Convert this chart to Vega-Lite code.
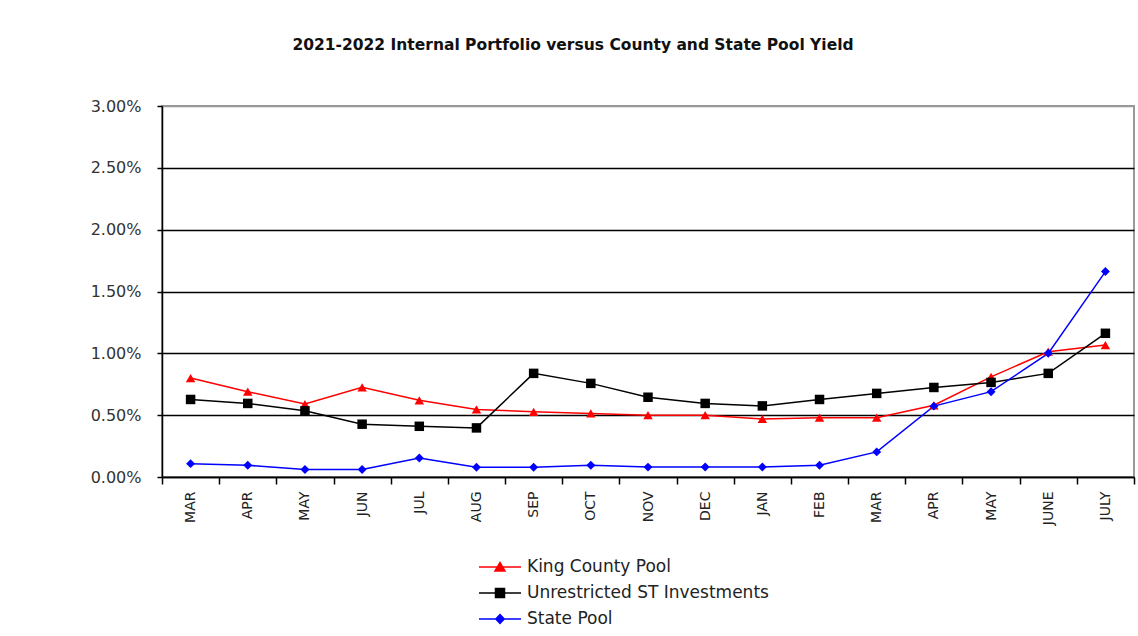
{
  "$schema": "https://vega.github.io/schema/vega-lite/v6.json",
  "width": 972,
  "height": 371,
  "autosize": {"type": "none"},
  "padding": {"left": 162, "top": 106, "right": 4, "bottom": 159},
  "background": "white",
  "title": {
    "text": "2021-2022 Internal Portfolio versus County and State Pool Yield",
    "font": "DejaVu Sans",
    "fontSize": 15.5,
    "fontWeight": "bold",
    "color": "#111111",
    "anchor": "middle",
    "frame": "group",
    "dx": -75,
    "offset": 45
  },
  "config": {
    "view": {"stroke": "#999999", "strokeWidth": 2}
  },
  "data": {
    "values": [
      {"month": "MAR 21", "series": "King County Pool", "value": 0.80},
      {"month": "APR 21", "series": "King County Pool", "value": 0.69},
      {"month": "MAY 21", "series": "King County Pool", "value": 0.59},
      {"month": "JUN 21", "series": "King County Pool", "value": 0.725},
      {"month": "JUL 21", "series": "King County Pool", "value": 0.62},
      {"month": "AUG 21", "series": "King County Pool", "value": 0.546},
      {"month": "SEP 21", "series": "King County Pool", "value": 0.527},
      {"month": "OCT 21", "series": "King County Pool", "value": 0.514},
      {"month": "NOV 21", "series": "King County Pool", "value": 0.50},
      {"month": "DEC 21", "series": "King County Pool", "value": 0.50},
      {"month": "JAN 22", "series": "King County Pool", "value": 0.47},
      {"month": "FEB 22", "series": "King County Pool", "value": 0.48},
      {"month": "MAR 22", "series": "King County Pool", "value": 0.48},
      {"month": "APR 22", "series": "King County Pool", "value": 0.58},
      {"month": "MAY 22", "series": "King County Pool", "value": 0.81},
      {"month": "JUNE 22", "series": "King County Pool", "value": 1.013},
      {"month": "JULY 22", "series": "King County Pool", "value": 1.067},
      {"month": "MAR 21", "series": "Unrestricted ST Investments", "value": 0.627},
      {"month": "APR 21", "series": "Unrestricted ST Investments", "value": 0.595},
      {"month": "MAY 21", "series": "Unrestricted ST Investments", "value": 0.535},
      {"month": "JUN 21", "series": "Unrestricted ST Investments", "value": 0.427},
      {"month": "JUL 21", "series": "Unrestricted ST Investments", "value": 0.41},
      {"month": "AUG 21", "series": "Unrestricted ST Investments", "value": 0.397},
      {"month": "SEP 21", "series": "Unrestricted ST Investments", "value": 0.838},
      {"month": "OCT 21", "series": "Unrestricted ST Investments", "value": 0.757},
      {"month": "NOV 21", "series": "Unrestricted ST Investments", "value": 0.645},
      {"month": "DEC 21", "series": "Unrestricted ST Investments", "value": 0.595},
      {"month": "JAN 22", "series": "Unrestricted ST Investments", "value": 0.575},
      {"month": "FEB 22", "series": "Unrestricted ST Investments", "value": 0.627},
      {"month": "MAR 22", "series": "Unrestricted ST Investments", "value": 0.676},
      {"month": "APR 22", "series": "Unrestricted ST Investments", "value": 0.724},
      {"month": "MAY 22", "series": "Unrestricted ST Investments", "value": 0.765},
      {"month": "JUNE 22", "series": "Unrestricted ST Investments", "value": 0.838},
      {"month": "JULY 22", "series": "Unrestricted ST Investments", "value": 1.162},
      {"month": "MAR 21", "series": "State Pool", "value": 0.108},
      {"month": "APR 21", "series": "State Pool", "value": 0.095},
      {"month": "MAY 21", "series": "State Pool", "value": 0.06},
      {"month": "JUN 21", "series": "State Pool", "value": 0.06},
      {"month": "JUL 21", "series": "State Pool", "value": 0.154},
      {"month": "AUG 21", "series": "State Pool", "value": 0.079},
      {"month": "SEP 21", "series": "State Pool", "value": 0.079},
      {"month": "OCT 21", "series": "State Pool", "value": 0.095},
      {"month": "NOV 21", "series": "State Pool", "value": 0.08},
      {"month": "DEC 21", "series": "State Pool", "value": 0.081},
      {"month": "JAN 22", "series": "State Pool", "value": 0.081},
      {"month": "FEB 22", "series": "State Pool", "value": 0.095},
      {"month": "MAR 22", "series": "State Pool", "value": 0.203},
      {"month": "APR 22", "series": "State Pool", "value": 0.573},
      {"month": "MAY 22", "series": "State Pool", "value": 0.69},
      {"month": "JUNE 22", "series": "State Pool", "value": 1.0},
      {"month": "JULY 22", "series": "State Pool", "value": 1.661}
    ]
  },
  "encoding": {
    "x": {
      "field": "month",
      "type": "ordinal",
      "sort": null,
      "bandPosition": 0.5,
      "scale": {"type": "band", "paddingInner": 0, "paddingOuter": 0},
      "axis": {
        "title": null,
        "labelExpr": "split(datum.label, ' ')[0]",
        "labelAngle": 270,
        "labelFont": "DejaVu Sans",
        "labelFontSize": 14,
        "labelColor": "#222222",
        "labelPadding": 7,
        "tickBand": "extent",
        "tickSize": 7,
        "tickColor": "#000000",
        "tickWidth": 1.5,
        "domainColor": "#000000",
        "domainWidth": 1.5,
        "grid": false
      }
    },
    "y": {
      "field": "value",
      "type": "quantitative",
      "scale": {"domain": [0, 3], "nice": false, "zero": true},
      "axis": {
        "title": null,
        "values": [0, 0.5, 1, 1.5, 2, 2.5, 3],
        "labelExpr": "format(datum.value, '.2f') + '%'",
        "labelFont": "DejaVu Sans",
        "labelFontSize": 16,
        "labelColor": "#333333",
        "labelPadding": 16,
        "tickSize": 5,
        "tickColor": "#000000",
        "tickWidth": 1.5,
        "domainColor": "#000000",
        "domainWidth": 1.5,
        "grid": true,
        "gridWidth": 1.5,
        "gridOpacity": 1,
        "gridColor": {"condition": {"test": "datum.value >= 3", "value": "#999999"}, "value": "#000000"}
      }
    },
    "color": {
      "field": "series",
      "type": "nominal",
      "sort": ["King County Pool", "Unrestricted ST Investments", "State Pool"],
      "scale": {
        "domain": ["King County Pool", "Unrestricted ST Investments", "State Pool"],
        "range": ["#ff0000", "#000000", "#0000ff"]
      },
      "legend": {
        "orient": "none",
        "legendX": 327,
        "legendY": 450,
        "title": null,
        "direction": "vertical",
        "padding": 0,
        "symbolSize": 400,
        "symbolStrokeWidth": 1.5,
        "symbolOpacity": 1,
        "labelFont": "DejaVu Sans",
        "labelFontSize": 17,
        "labelColor": "#222222",
        "labelOffset": 16,
        "labelLimit": 500,
        "rowPadding": 7,
        "encode": {
          "symbols": {
            "update": {
              "shape": {"signal": "datum.value === 'King County Pool' ? 'M-2.1,0H2.1M-0.5,0.4L0,-0.45L0.5,0.4Z' : datum.value === 'State Pool' ? 'M-2.1,0H2.1M0,-0.45L0.42,0L0,0.45L-0.42,0Z' : 'M-2.1,0H2.1M-0.45,-0.45H0.45V0.45H-0.45Z'"},
              "fill": {"scale": "color", "field": "value"},
              "stroke": {"scale": "color", "field": "value"},
              "strokeWidth": {"value": 1.5},
              "opacity": {"value": 1}
            }
          }
        }
      }
    }
  },
  "layer": [
    {
      "mark": {"type": "line", "strokeWidth": 1.5},
      "encoding": {}
    },
    {
      "transform": [{"filter": "datum.series === 'King County Pool'"}],
      "mark": {"type": "point", "filled": true, "opacity": 1, "size": 90, "shape": "triangle-up"},
      "encoding": {}
    },
    {
      "transform": [{"filter": "datum.series === 'Unrestricted ST Investments'"}],
      "mark": {"type": "point", "filled": true, "opacity": 1, "size": 90, "shape": "square"},
      "encoding": {}
    },
    {
      "transform": [{"filter": "datum.series === 'State Pool'"}],
      "mark": {"type": "point", "filled": true, "opacity": 1, "size": 80, "shape": "diamond"},
      "encoding": {}
    }
  ]
}
